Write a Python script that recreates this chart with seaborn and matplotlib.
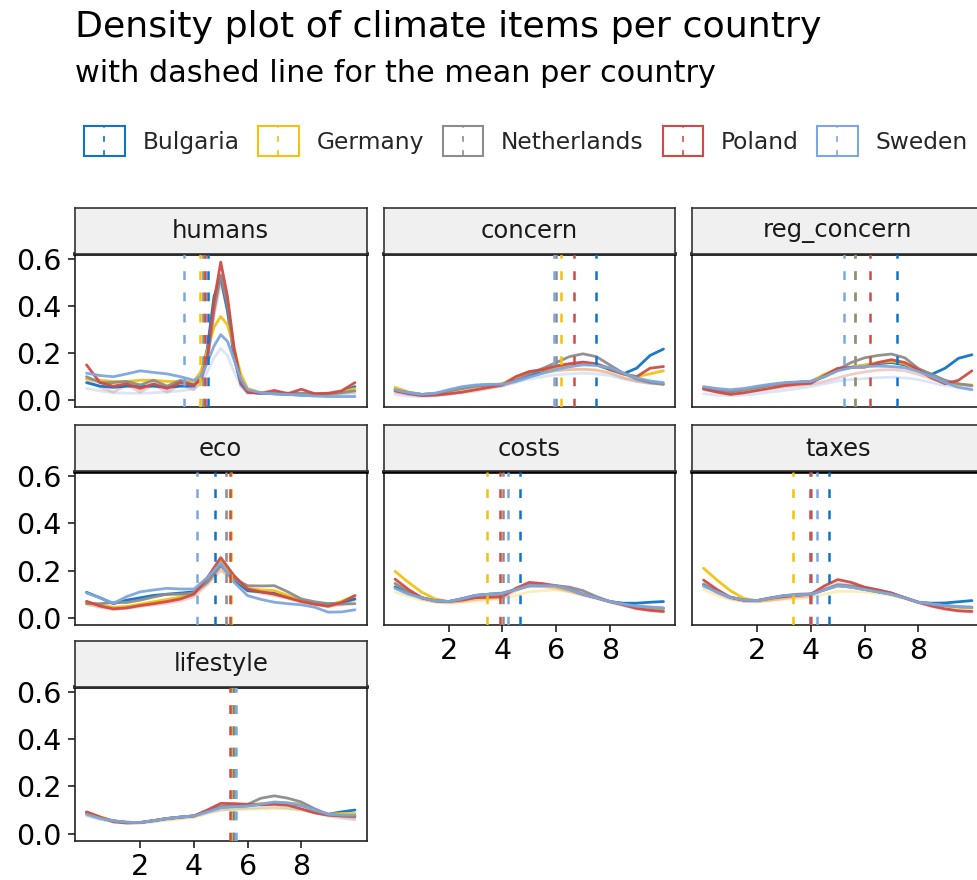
import numpy as np
import pandas as pd
import matplotlib
matplotlib.use("Agg")
import matplotlib.pyplot as plt
import seaborn as sns
from matplotlib.legend_handler import HandlerBase
from matplotlib.patches import Rectangle
from matplotlib.lines import Line2D

# ---------------- data ----------------
countries = ["Bulgaria", "Germany", "Netherlands", "Poland", "Sweden"]
colors = ["#0F73C6", "#F2C20F", "#8C8C8C", "#D04B45", "#7DA7E0"]
items = ["humans", "concern", "reg_concern", "eco", "costs", "taxes", "lifestyle"]
x_ticks = [2, 4, 6, 8]
y_ticks = [0.0, 0.2, 0.4, 0.6]

x_grid = [0, 0.5, 1, 1.5, 2, 2.5, 3, 3.5, 4, 4.5, 5, 5.5, 6, 6.5, 7, 7.5, 8, 8.5, 9, 9.5, 10]
x_humans = [0, 0.5, 1, 1.5, 2, 2.5, 3, 3.5, 4, 4.25, 4.5, 4.75, 5, 5.25, 5.5, 5.75,
            6, 6.5, 7, 7.5, 8, 8.5, 9, 9.5, 10]

# density curves per item and country (main lines)
humans = {
    "Bulgaria":    [0.075, 0.060, 0.055, 0.060, 0.060, 0.060, 0.055, 0.060, 0.060, 0.100, 0.220, 0.440, 0.520, 0.380, 0.180, 0.070, 0.035, 0.030, 0.028, 0.025, 0.022, 0.022, 0.025, 0.035, 0.058],
    "Germany":     [0.090, 0.085, 0.080, 0.080, 0.085, 0.085, 0.080, 0.080, 0.080, 0.120, 0.210, 0.310, 0.355, 0.320, 0.220, 0.110, 0.050, 0.032, 0.030, 0.030, 0.028, 0.025, 0.025, 0.035, 0.050],
    "Netherlands": [0.100, 0.075, 0.075, 0.080, 0.065, 0.085, 0.060, 0.085, 0.065, 0.085, 0.170, 0.380, 0.530, 0.400, 0.200, 0.075, 0.035, 0.030, 0.030, 0.030, 0.030, 0.028, 0.028, 0.032, 0.040],
    "Poland":      [0.150, 0.075, 0.060, 0.070, 0.050, 0.070, 0.050, 0.075, 0.065, 0.090, 0.180, 0.420, 0.585, 0.440, 0.220, 0.080, 0.035, 0.030, 0.042, 0.028, 0.047, 0.028, 0.030, 0.040, 0.075],
    "Sweden":      [0.115, 0.105, 0.100, 0.112, 0.125, 0.118, 0.112, 0.100, 0.085, 0.100, 0.160, 0.230, 0.278, 0.250, 0.170, 0.090, 0.045, 0.032, 0.027, 0.025, 0.022, 0.018, 0.016, 0.016, 0.016],
}
concern = {
    "Bulgaria":    [0.045, 0.032, 0.025, 0.028, 0.040, 0.052, 0.062, 0.066, 0.068, 0.085, 0.105, 0.125, 0.140, 0.150, 0.155, 0.150, 0.130, 0.112, 0.136, 0.190, 0.217],
    "Germany":     [0.055, 0.035, 0.025, 0.030, 0.040, 0.050, 0.058, 0.063, 0.070, 0.100, 0.120, 0.128, 0.140, 0.150, 0.155, 0.150, 0.135, 0.112, 0.100, 0.112, 0.125],
    "Netherlands": [0.045, 0.033, 0.025, 0.028, 0.040, 0.050, 0.060, 0.065, 0.068, 0.085, 0.112, 0.135, 0.160, 0.185, 0.197, 0.185, 0.150, 0.115, 0.090, 0.075, 0.068],
    "Poland":      [0.040, 0.028, 0.020, 0.022, 0.028, 0.035, 0.045, 0.055, 0.065, 0.100, 0.122, 0.130, 0.145, 0.155, 0.162, 0.155, 0.135, 0.112, 0.100, 0.136, 0.143],
    "Sweden":      [0.045, 0.032, 0.025, 0.030, 0.045, 0.058, 0.065, 0.068, 0.068, 0.080, 0.098, 0.115, 0.130, 0.142, 0.150, 0.148, 0.138, 0.115, 0.095, 0.082, 0.075],
}
reg_concern = {
    "Bulgaria":    [0.055, 0.045, 0.038, 0.045, 0.055, 0.065, 0.072, 0.076, 0.080, 0.100, 0.128, 0.140, 0.148, 0.155, 0.160, 0.150, 0.125, 0.110, 0.136, 0.178, 0.193],
    "Germany":     [0.055, 0.045, 0.038, 0.045, 0.055, 0.065, 0.072, 0.076, 0.080, 0.110, 0.135, 0.140, 0.150, 0.160, 0.165, 0.155, 0.125, 0.095, 0.075, 0.068, 0.065],
    "Netherlands": [0.052, 0.042, 0.035, 0.045, 0.055, 0.065, 0.072, 0.076, 0.080, 0.100, 0.130, 0.160, 0.180, 0.190, 0.196, 0.180, 0.135, 0.110, 0.085, 0.070, 0.062],
    "Poland":      [0.048, 0.035, 0.025, 0.032, 0.042, 0.052, 0.062, 0.068, 0.072, 0.105, 0.135, 0.140, 0.140, 0.160, 0.172, 0.160, 0.130, 0.095, 0.070, 0.085, 0.125],
    "Sweden":      [0.058, 0.050, 0.045, 0.050, 0.060, 0.068, 0.075, 0.078, 0.080, 0.100, 0.125, 0.138, 0.143, 0.145, 0.143, 0.138, 0.122, 0.100, 0.075, 0.055, 0.045],
}
eco = {
    "Bulgaria":    [0.108, 0.085, 0.060, 0.075, 0.085, 0.095, 0.100, 0.105, 0.110, 0.160, 0.225, 0.160, 0.115, 0.110, 0.105, 0.090, 0.072, 0.060, 0.058, 0.065, 0.080],
    "Germany":     [0.065, 0.055, 0.045, 0.048, 0.058, 0.068, 0.078, 0.088, 0.105, 0.165, 0.245, 0.170, 0.125, 0.118, 0.115, 0.095, 0.072, 0.060, 0.050, 0.070, 0.094],
    "Netherlands": [0.060, 0.060, 0.065, 0.065, 0.075, 0.088, 0.100, 0.100, 0.105, 0.150, 0.220, 0.165, 0.136, 0.135, 0.136, 0.110, 0.080, 0.068, 0.060, 0.058, 0.060],
    "Poland":      [0.070, 0.050, 0.038, 0.042, 0.052, 0.060, 0.069, 0.080, 0.100, 0.170, 0.255, 0.178, 0.122, 0.110, 0.100, 0.085, 0.069, 0.058, 0.049, 0.065, 0.094],
    "Sweden":      [0.105, 0.085, 0.062, 0.090, 0.110, 0.118, 0.125, 0.122, 0.122, 0.170, 0.232, 0.150, 0.094, 0.078, 0.066, 0.060, 0.055, 0.045, 0.024, 0.025, 0.034],
}
costs = {
    "Bulgaria":    [0.130, 0.105, 0.085, 0.072, 0.069, 0.080, 0.095, 0.100, 0.103, 0.120, 0.136, 0.136, 0.136, 0.120, 0.100, 0.085, 0.069, 0.062, 0.062, 0.066, 0.069],
    "Germany":     [0.197, 0.150, 0.108, 0.080, 0.069, 0.078, 0.090, 0.095, 0.100, 0.118, 0.136, 0.136, 0.132, 0.118, 0.100, 0.085, 0.069, 0.056, 0.045, 0.040, 0.035],
    "Netherlands": [0.146, 0.110, 0.085, 0.072, 0.069, 0.082, 0.095, 0.100, 0.105, 0.120, 0.136, 0.136, 0.136, 0.130, 0.115, 0.090, 0.069, 0.058, 0.049, 0.045, 0.041],
    "Poland":      [0.164, 0.120, 0.085, 0.072, 0.069, 0.075, 0.085, 0.087, 0.090, 0.125, 0.150, 0.145, 0.136, 0.120, 0.100, 0.085, 0.069, 0.055, 0.040, 0.032, 0.027],
    "Sweden":      [0.125, 0.100, 0.085, 0.072, 0.069, 0.080, 0.095, 0.100, 0.103, 0.120, 0.136, 0.136, 0.136, 0.120, 0.100, 0.085, 0.069, 0.058, 0.049, 0.045, 0.041],
}
taxes = {
    "Bulgaria":    [0.140, 0.110, 0.087, 0.075, 0.073, 0.083, 0.094, 0.097, 0.100, 0.118, 0.136, 0.130, 0.120, 0.110, 0.100, 0.085, 0.066, 0.062, 0.063, 0.068, 0.073],
    "Germany":     [0.210, 0.160, 0.115, 0.082, 0.073, 0.080, 0.090, 0.095, 0.100, 0.120, 0.135, 0.130, 0.120, 0.110, 0.100, 0.085, 0.066, 0.058, 0.050, 0.045, 0.042],
    "Netherlands": [0.143, 0.110, 0.087, 0.075, 0.073, 0.085, 0.094, 0.100, 0.102, 0.120, 0.140, 0.135, 0.128, 0.118, 0.105, 0.085, 0.066, 0.058, 0.052, 0.047, 0.045],
    "Poland":      [0.160, 0.120, 0.087, 0.075, 0.073, 0.083, 0.090, 0.095, 0.100, 0.135, 0.162, 0.150, 0.130, 0.118, 0.105, 0.085, 0.066, 0.050, 0.038, 0.030, 0.027],
    "Sweden":      [0.134, 0.110, 0.087, 0.075, 0.073, 0.083, 0.094, 0.097, 0.100, 0.118, 0.136, 0.130, 0.120, 0.110, 0.100, 0.085, 0.066, 0.058, 0.052, 0.047, 0.045],
}
lifestyle = {
    "Bulgaria":    [0.088, 0.068, 0.054, 0.048, 0.047, 0.055, 0.064, 0.070, 0.075, 0.095, 0.112, 0.115, 0.118, 0.124, 0.130, 0.128, 0.120, 0.100, 0.082, 0.092, 0.100],
    "Germany":     [0.092, 0.072, 0.054, 0.048, 0.047, 0.055, 0.064, 0.070, 0.075, 0.095, 0.115, 0.118, 0.120, 0.128, 0.130, 0.130, 0.125, 0.100, 0.082, 0.085, 0.085],
    "Netherlands": [0.088, 0.068, 0.054, 0.048, 0.047, 0.055, 0.064, 0.070, 0.075, 0.095, 0.115, 0.120, 0.124, 0.150, 0.160, 0.150, 0.134, 0.105, 0.082, 0.075, 0.070],
    "Poland":      [0.092, 0.070, 0.050, 0.045, 0.047, 0.055, 0.064, 0.070, 0.075, 0.100, 0.128, 0.127, 0.124, 0.122, 0.124, 0.120, 0.105, 0.088, 0.078, 0.075, 0.075],
    "Sweden":      [0.082, 0.065, 0.054, 0.048, 0.047, 0.055, 0.064, 0.070, 0.075, 0.092, 0.110, 0.114, 0.117, 0.125, 0.134, 0.130, 0.120, 0.100, 0.082, 0.078, 0.078],
}

# faint (lighter) curves visible behind the main ones
humans_faint = {
    "Poland": [0.090, 0.055, 0.035, 0.065, 0.035, 0.065, 0.035, 0.065, 0.045, 0.080, 0.160, 0.360, 0.500, 0.380, 0.180, 0.060, 0.030, 0.028, 0.028, 0.028, 0.028, 0.026, 0.026, 0.030, 0.035],
    "Sweden": [0.050, 0.040, 0.032, 0.030, 0.030, 0.032, 0.035, 0.040, 0.048, 0.070, 0.120, 0.180, 0.220, 0.190, 0.120, 0.060, 0.035, 0.030, 0.028, 0.025, 0.022, 0.020, 0.020, 0.022, 0.025],
}
concern_faint = {
    "Germany": [0.045, 0.030, 0.022, 0.025, 0.032, 0.042, 0.050, 0.058, 0.065, 0.080, 0.100, 0.115, 0.125, 0.130, 0.130, 0.128, 0.118, 0.100, 0.085, 0.078, 0.075],
    "Poland":  [0.035, 0.025, 0.020, 0.022, 0.026, 0.032, 0.040, 0.050, 0.060, 0.080, 0.100, 0.115, 0.125, 0.130, 0.132, 0.128, 0.115, 0.095, 0.080, 0.072, 0.068],
    "Sweden":  [0.025, 0.018, 0.015, 0.018, 0.025, 0.035, 0.045, 0.055, 0.062, 0.075, 0.090, 0.100, 0.108, 0.112, 0.115, 0.112, 0.105, 0.090, 0.080, 0.072, 0.068],
}
reg_concern_faint = {
    "Poland": [0.045, 0.035, 0.028, 0.032, 0.040, 0.048, 0.056, 0.062, 0.068, 0.080, 0.095, 0.110, 0.120, 0.128, 0.130, 0.125, 0.110, 0.090, 0.075, 0.068, 0.062],
    "Sweden": [0.028, 0.022, 0.020, 0.022, 0.028, 0.035, 0.042, 0.050, 0.058, 0.070, 0.082, 0.088, 0.092, 0.096, 0.098, 0.095, 0.088, 0.075, 0.062, 0.055, 0.050],
}
eco_faint = {
    "Germany": [0.055, 0.048, 0.042, 0.046, 0.055, 0.065, 0.075, 0.085, 0.100, 0.150, 0.210, 0.160, 0.118, 0.110, 0.105, 0.090, 0.070, 0.058, 0.050, 0.060, 0.080],
    "Poland":  [0.060, 0.045, 0.035, 0.040, 0.048, 0.055, 0.062, 0.072, 0.090, 0.140, 0.200, 0.160, 0.115, 0.105, 0.095, 0.082, 0.066, 0.055, 0.048, 0.055, 0.075],
}
costs_faint = {
    "Germany": [0.110, 0.090, 0.075, 0.066, 0.062, 0.066, 0.070, 0.075, 0.080, 0.095, 0.110, 0.115, 0.118, 0.110, 0.098, 0.085, 0.070, 0.060, 0.052, 0.048, 0.045],
    "Poland":  [0.140, 0.105, 0.080, 0.068, 0.065, 0.070, 0.078, 0.082, 0.085, 0.115, 0.135, 0.132, 0.125, 0.112, 0.095, 0.082, 0.066, 0.052, 0.038, 0.030, 0.025],
}
taxes_faint = {
    "Germany": [0.120, 0.095, 0.078, 0.070, 0.068, 0.072, 0.078, 0.082, 0.085, 0.100, 0.112, 0.112, 0.110, 0.102, 0.095, 0.082, 0.066, 0.056, 0.048, 0.044, 0.040],
    "Poland":  [0.140, 0.105, 0.082, 0.070, 0.068, 0.075, 0.082, 0.088, 0.092, 0.120, 0.145, 0.138, 0.122, 0.110, 0.098, 0.082, 0.064, 0.048, 0.036, 0.028, 0.025],
}
lifestyle_faint = {
    "Germany":     [0.080, 0.062, 0.050, 0.045, 0.045, 0.050, 0.056, 0.062, 0.068, 0.085, 0.100, 0.102, 0.103, 0.104, 0.105, 0.105, 0.100, 0.090, 0.078, 0.070, 0.065],
    "Netherlands": [0.075, 0.060, 0.050, 0.045, 0.045, 0.052, 0.060, 0.066, 0.072, 0.088, 0.100, 0.104, 0.108, 0.110, 0.112, 0.108, 0.100, 0.088, 0.075, 0.065, 0.058],
}

# mean per country (dashed lines), order = countries
mean_humans = [4.53, 4.24, 4.34, 4.41, 3.62]
mean_concern = [7.47, 6.18, 5.98, 6.66, 5.91]
mean_reg_concern = [7.22, 5.65, 5.66, 6.22, 5.24]
mean_eco = [4.80, 5.40, 5.20, 5.33, 4.12]
mean_costs = [4.64, 3.42, 4.04, 3.91, 4.19]
mean_taxes = [4.67, 3.35, 4.00, 3.96, 4.21]
mean_lifestyle = [5.45, 5.40, 5.50, 5.34, 5.56]

main_sets = [humans, concern, reg_concern, eco, costs, taxes, lifestyle]
faint_sets = [humans_faint, concern_faint, reg_concern_faint, eco_faint,
              costs_faint, taxes_faint, lifestyle_faint]
mean_sets = [mean_humans, mean_concern, mean_reg_concern, mean_eco,
             mean_costs, mean_taxes, mean_lifestyle]

rows = []
for item, main, faint in zip(items, main_sets, faint_sets):
    xs = x_humans if item == "humans" else x_grid
    for layer, d in (("faint", faint), ("main", main)):
        for c, vals in d.items():
            for xv, yv in zip(xs, vals):
                rows.append((item, layer, c, xv, yv))
df = pd.DataFrame(rows, columns=["item", "layer", "country", "x", "density"])
means = pd.DataFrame([(it, c, m) for it, ms in zip(items, mean_sets)
                      for c, m in zip(countries, ms)],
                     columns=["item", "country", "mean"])

# ---------------- figure ----------------
sns.set_theme(style="white")
plt.rcParams["font.family"] = ["DejaVu Sans"]
palette = dict(zip(countries, colors))

W, H = 977, 880
fig = plt.figure(figsize=(W / 100, H / 100), dpi=100)
fig.patch.set_facecolor("white")

col_x = [75, 383.5, 692]
panel_w = 291.5
row_top = [254, 471.5, 687.3]
panel_h = 153.3
strip_h = 46
positions = [(0, 0), (0, 1), (0, 2), (1, 0), (1, 1), (1, 2), (2, 0)]
bottom_panels = {"costs", "taxes", "lifestyle"}
tick_fs = 20.5
strip_fs = 17.5

for item, (r, c) in zip(items, positions):
    x0 = col_x[c]
    top = row_top[r]
    ax = fig.add_axes([x0 / W, 1 - (top + panel_h) / H, panel_w / W, panel_h / H])
    sub = df[df["item"] == item]
    sns.lineplot(data=sub[sub["layer"] == "faint"], x="x", y="density", hue="country",
                 palette=palette, hue_order=countries, estimator=None, sort=True,
                 linewidth=2.0, alpha=0.28, legend=False, ax=ax,
                 solid_joinstyle="round", solid_capstyle="round")
    sns.lineplot(data=sub[sub["layer"] == "main"], x="x", y="density", hue="country",
                 palette=palette, hue_order=countries, estimator=None, sort=True,
                 linewidth=2.0, alpha=0.95, legend=False, ax=ax,
                 solid_joinstyle="round", solid_capstyle="round")
    msub = means[means["item"] == item]
    for _, mr in msub.iterrows():
        ax.axvline(mr["mean"], color=palette[mr["country"]], lw=1.8,
                   ls=(0, (3.5, 5)), zorder=3)
    ax.set_xlim(-0.43, 10.43)
    ax.set_ylim(-0.0295, 0.6195)
    ax.set_xlabel("")
    ax.set_ylabel("")
    ax.set_facecolor("white")
    for s in ax.spines.values():
        s.set_color("#222222")
        s.set_linewidth(1.2)
        s.set_visible(True)
    ax.spines["top"].set_linewidth(2.6)
    ax.spines["top"].set_color("black")
    ax.grid(False)
    if c == 0:
        ax.set_yticks(y_ticks)
        ax.set_yticklabels([f"{v:.1f}" for v in y_ticks])
        ax.tick_params(axis="y", left=True, length=5, width=1.3, color="#333333",
                       pad=4.6, labelsize=tick_fs, labelcolor="black")
    else:
        ax.set_yticks([])
    if item in bottom_panels:
        ax.set_xticks(x_ticks)
        ax.set_xticklabels([str(v) for v in x_ticks])
        ax.tick_params(axis="x", bottom=True, length=5, width=1.3, color="#333333",
                       pad=3.8, labelsize=tick_fs, labelcolor="black")
    else:
        ax.set_xticks([])

    # strip
    sax = fig.add_axes([x0 / W, 1 - top / H, panel_w / W, strip_h / H])
    sax.set_facecolor("#F0F0F0")
    sax.set_xticks([])
    sax.set_yticks([])
    for s in sax.spines.values():
        s.set_color("#333333")
        s.set_linewidth(1.2)
    sax.text(0.5, 0.5, item, ha="center", va="center", fontsize=strip_fs,
             color="#1A1A1A", transform=sax.transAxes)

# titles
fig.text(75 / W, 1 - 37.5 / H, "Density plot of climate items per country",
         fontsize=26.2, ha="left", va="baseline", color="black")
fig.text(75 / W, 1 - 82.5 / H, "with dashed line for the mean per country",
         fontsize=21.8, ha="left", va="baseline", color="black")


# legend with box + dashed vertical line keys
class BoxVLineHandler(HandlerBase):
    def create_artists(self, legend, orig_handle, xdescent, ydescent, width,
                       height, fontsize, trans):
        col = orig_handle.get_color()
        rect = Rectangle((-xdescent + 1, -ydescent + 1), width - 2, height - 2,
                         fill=False, edgecolor=col, lw=1.5, transform=trans)
        cx = -xdescent + width / 2
        line = Line2D([cx, cx], [-ydescent + 1, -ydescent + height - 1], color=col,
                      lw=1.2, ls=(0, (3.5, 5)), transform=trans)
        return [rect, line]


handles = [Line2D([], [], color=palette[c]) for c in countries]
fig.legend(handles, countries, loc="center left",
           bbox_to_anchor=(83 / W, 1 - 141 / H), ncol=5, frameon=False,
           fontsize=16.8, handlelength=1.84, handleheight=1.8, handletextpad=0.72,
           columnspacing=0.74, borderpad=0, borderaxespad=0,
           handler_map={Line2D: BoxVLineHandler()})

fig.savefig("out.png", dpi=100, facecolor="white")
